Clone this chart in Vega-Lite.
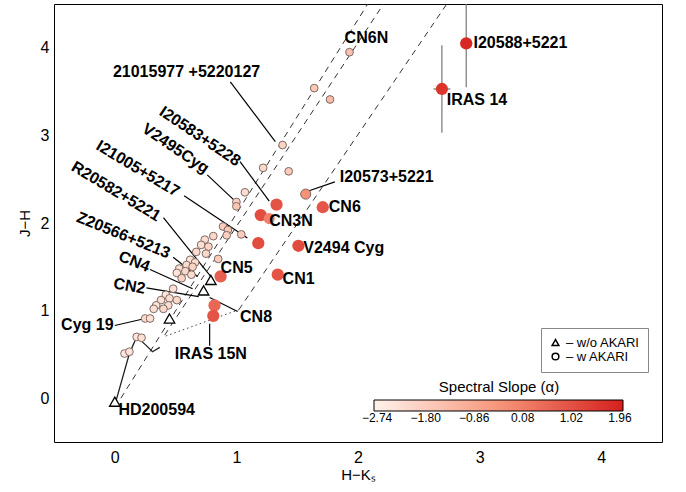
{
  "$schema": "https://vega.github.io/schema/vega-lite/v6.json",
  "width": 608,
  "height": 438,
  "autosize": {"type": "none"},
  "padding": {"left": 54, "top": 4, "right": 24, "bottom": 50},
  "background": "white",
  "config": {
    "view": {"stroke": "black", "strokeWidth": 1},
    "font": "Liberation Sans",
    "axis": {"domain": false, "ticks": false, "grid": false,
      "labelColor": "black", "titleColor": "black", "labelFont": "Liberation Sans", "titleFont": "Liberation Sans", "labelOverlap": false, "labelFlush": false, "labelBound": false}
  },
  "datasets": {
    "tk": [{"v": -0.4}, {"v": -0.3}, {"v": -0.2}, {"v": -0.1}, {"v": 0}, {"v": 0.1}, {"v": 0.2}, {"v": 0.3}, {"v": 0.4}, {"v": 0.5}, {"v": 0.6}, {"v": 0.7}, {"v": 0.8}, {"v": 0.9}, {"v": 1}, {"v": 1.1}, {"v": 1.2}, {"v": 1.3}, {"v": 1.4}, {"v": 1.5}, {"v": 1.6}, {"v": 1.7}, {"v": 1.8}, {"v": 1.9}, {"v": 2}, {"v": 2.1}, {"v": 2.2}, {"v": 2.3}, {"v": 2.4}, {"v": 2.5}, {"v": 2.6}, {"v": 2.7}, {"v": 2.8}, {"v": 2.9}, {"v": 3}, {"v": 3.1}, {"v": 3.2}, {"v": 3.3}, {"v": 3.4}, {"v": 3.5}, {"v": 3.6}, {"v": 3.7}, {"v": 3.8}, {"v": 3.9}, {"v": 4}, {"v": 4.1}, {"v": 4.2}, {"v": 4.3}, {"v": 4.4}],
    "pts": [
      {"hk": 2.89, "jh": 4.05, "alpha": 1.85, "akari": "w AKARI"},
      {"hk": 2.69, "jh": 3.53, "alpha": 1.6, "akari": "w AKARI"},
      {"hk": 1.71, "jh": 2.18, "alpha": 0.9, "akari": "w AKARI"},
      {"hk": 1.33, "jh": 2.21, "alpha": 0.95, "akari": "w AKARI"},
      {"hk": 1.20, "jh": 2.09, "alpha": 1.1, "akari": "w AKARI"},
      {"hk": 1.27, "jh": 2.05, "alpha": 0.05, "akari": "w AKARI"},
      {"hk": 1.18, "jh": 1.77, "alpha": 1.1, "akari": "w AKARI"},
      {"hk": 1.51, "jh": 1.74, "alpha": 1.15, "akari": "w AKARI"},
      {"hk": 1.34, "jh": 1.41, "alpha": 0.95, "akari": "w AKARI"},
      {"hk": 0.87, "jh": 1.39, "alpha": 0.75, "akari": "w AKARI"},
      {"hk": 0.82, "jh": 1.06, "alpha": 0.55, "akari": "w AKARI"},
      {"hk": 0.81, "jh": 0.94, "alpha": 0.95, "akari": "w AKARI"},
      {"hk": 1.57, "jh": 2.33, "alpha": -0.3, "akari": "w AKARI"},
      {"hk": 1.93, "jh": 3.95, "alpha": -1.5, "akari": "w AKARI"},
      {"hk": 1.64, "jh": 3.54, "alpha": -1.7, "akari": "w AKARI"},
      {"hk": 1.77, "jh": 3.41, "alpha": -1.4, "akari": "w AKARI"},
      {"hk": 1.38, "jh": 2.89, "alpha": -2.0, "akari": "w AKARI"},
      {"hk": 1.22, "jh": 2.63, "alpha": -2.1, "akari": "w AKARI"},
      {"hk": 1.43, "jh": 2.59, "alpha": -1.7, "akari": "w AKARI"},
      {"hk": 1.07, "jh": 2.35, "alpha": -2.2, "akari": "w AKARI"},
      {"hk": 1.00, "jh": 2.24, "alpha": -1.9, "akari": "w AKARI"},
      {"hk": 1.00, "jh": 2.19, "alpha": -1.6, "akari": "w AKARI"},
      {"hk": 0.89, "jh": 1.96, "alpha": -1.8, "akari": "w AKARI"},
      {"hk": 0.93, "jh": 1.92, "alpha": -1.7, "akari": "w AKARI"},
      {"hk": 0.81, "jh": 1.85, "alpha": -2.1, "akari": "w AKARI"},
      {"hk": 0.74, "jh": 1.81, "alpha": -2.2, "akari": "w AKARI"},
      {"hk": 0.92, "jh": 1.86, "alpha": -1.9, "akari": "w AKARI"},
      {"hk": 1.04, "jh": 1.87, "alpha": -1.8, "akari": "w AKARI"},
      {"hk": 0.71, "jh": 1.75, "alpha": -2.3, "akari": "w AKARI"},
      {"hk": 0.77, "jh": 1.73, "alpha": -2.0, "akari": "w AKARI"},
      {"hk": 0.67, "jh": 1.67, "alpha": -2.2, "akari": "w AKARI"},
      {"hk": 0.75, "jh": 1.65, "alpha": -2.1, "akari": "w AKARI"},
      {"hk": 0.85, "jh": 1.59, "alpha": -1.8, "akari": "w AKARI"},
      {"hk": 0.62, "jh": 1.58, "alpha": -2.4, "akari": "w AKARI"},
      {"hk": 0.66, "jh": 1.55, "alpha": -2.2, "akari": "w AKARI"},
      {"hk": 0.59, "jh": 1.52, "alpha": -2.2, "akari": "w AKARI"},
      {"hk": 0.64, "jh": 1.50, "alpha": -2.0, "akari": "w AKARI"},
      {"hk": 0.53, "jh": 1.48, "alpha": -2.3, "akari": "w AKARI"},
      {"hk": 0.58, "jh": 1.45, "alpha": -2.1, "akari": "w AKARI"},
      {"hk": 0.51, "jh": 1.43, "alpha": -2.4, "akari": "w AKARI"},
      {"hk": 0.63, "jh": 1.41, "alpha": -2.2, "akari": "w AKARI"},
      {"hk": 0.55, "jh": 1.37, "alpha": -2.0, "akari": "w AKARI"},
      {"hk": 0.48, "jh": 1.25, "alpha": -2.3, "akari": "w AKARI"},
      {"hk": 0.42, "jh": 1.18, "alpha": -2.4, "akari": "w AKARI"},
      {"hk": 0.45, "jh": 1.14, "alpha": -2.2, "akari": "w AKARI"},
      {"hk": 0.51, "jh": 1.12, "alpha": -2.1, "akari": "w AKARI"},
      {"hk": 0.38, "jh": 1.12, "alpha": -2.3, "akari": "w AKARI"},
      {"hk": 0.34, "jh": 1.06, "alpha": -2.4, "akari": "w AKARI"},
      {"hk": 0.44, "jh": 1.06, "alpha": -2.2, "akari": "w AKARI"},
      {"hk": 0.32, "jh": 1.02, "alpha": -2.3, "akari": "w AKARI"},
      {"hk": 0.40, "jh": 1.02, "alpha": -2.1, "akari": "w AKARI"},
      {"hk": 0.25, "jh": 0.91, "alpha": -2.2, "akari": "w AKARI"},
      {"hk": 0.29, "jh": 0.91, "alpha": -2.3, "akari": "w AKARI"},
      {"hk": 0.18, "jh": 0.70, "alpha": -2.4, "akari": "w AKARI"},
      {"hk": 0.22, "jh": 0.69, "alpha": -2.3, "akari": "w AKARI"},
      {"hk": 0.08, "jh": 0.51, "alpha": -2.5, "akari": "w AKARI"},
      {"hk": 0.12, "jh": 0.53, "alpha": -2.4, "akari": "w AKARI"}
    ],
    "tri": [
      {"hk": 0.0, "jh": -0.04, "akari": "w/o AKARI"},
      {"hk": 0.45, "jh": 0.91, "akari": "w/o AKARI"},
      {"hk": 0.73, "jh": 1.23, "akari": "w/o AKARI"},
      {"hk": 0.79, "jh": 1.35, "akari": "w/o AKARI"}
    ],
    "err": [
      {"hk": 2.89, "hklo": 2.84, "hkhi": 2.94, "jh": 4.05, "jhlo": 3.55, "jhhi": 4.55},
      {"hk": 2.69, "hklo": 2.62, "hkhi": 2.76, "jh": 3.53, "jhlo": 3.03, "jhhi": 4.03}
    ],
    "lines": [
      {"g": "A", "o": 1, "hk": 0.05, "jh": 0.0},
      {"g": "A", "o": 2, "hk": 2.08, "jh": 4.5},
      {"g": "B", "o": 1, "hk": 0.41, "jh": 0.72},
      {"g": "B", "o": 2, "hk": 2.21, "jh": 4.5},
      {"g": "C", "o": 1, "hk": 1.02, "jh": 1.01},
      {"g": "C", "o": 2, "hk": 2.73, "jh": 4.5},
      {"g": "D", "o": 1, "hk": 0.01, "jh": -0.03},
      {"g": "D", "o": 2, "hk": 0.12, "jh": 0.51},
      {"g": "D", "o": 3, "hk": 0.18, "jh": 0.70},
      {"g": "D", "o": 4, "hk": 0.26, "jh": 0.60},
      {"g": "D", "o": 5, "hk": 0.31, "jh": 0.53},
      {"g": "D", "o": 6, "hk": 0.37, "jh": 0.58},
      {"g": "T", "o": 1, "hk": 0.42, "jh": 0.71},
      {"g": "T", "o": 2, "hk": 1.02, "jh": 1.01}
    ],
    "leaders": [
      {"hk": 0.95, "jh": 3.61, "hk2": 1.32, "jh2": 2.93},
      {"hk": 1.03, "jh": 2.70, "hk2": 1.27, "jh2": 2.25},
      {"hk": 0.76, "jh": 2.55, "hk2": 1.02, "jh2": 2.21},
      {"hk": 0.57, "jh": 2.31, "hk2": 1.09, "jh2": 1.83},
      {"hk": 0.40, "jh": 2.06, "hk2": 0.80, "jh2": 1.37},
      {"hk": 0.48, "jh": 1.61, "hk2": 0.68, "jh2": 1.39},
      {"hk": 0.29, "jh": 1.47, "hk2": 0.64, "jh2": 1.25},
      {"hk": 0.26, "jh": 1.26, "hk2": 0.69, "jh2": 1.16},
      {"hk": 1.01, "jh": 0.99, "hk2": 0.78, "jh2": 1.15},
      {"hk": 0.78, "jh": 0.85, "hk2": 0.78, "jh2": 0.60},
      {"hk": 0.0, "jh": 0.83, "hk2": 0.25, "jh2": 0.91},
      {"hk": 1.81, "jh": 2.47, "hk2": 1.58, "jh2": 2.36}
    ],
    "labels": [
      {"name": "CN6N", "hk": 1.89, "jh": 4.11},
      {"name": "I20588+5221", "hk": 2.95, "jh": 4.05},
      {"name": "IRAS 14", "hk": 2.73, "jh": 3.40},
      {"name": "I20573+5221", "hk": 1.85, "jh": 2.52},
      {"name": "CN6", "hk": 1.76, "jh": 2.18},
      {"name": "CN3N", "hk": 1.27, "jh": 2.02},
      {"name": "V2494 Cyg", "hk": 1.55, "jh": 1.71},
      {"name": "CN1", "hk": 1.38, "jh": 1.36},
      {"name": "CN5", "hk": 0.87, "jh": 1.49},
      {"name": "CN8", "hk": 1.03, "jh": 0.93},
      {"name": "HD200594", "hk": 0.03, "jh": -0.14},
      {"name": "21015977 +5220127", "hk": 0.59, "jh": 3.72},
      {"name": "IRAS 15N", "hk": 0.79, "jh": 0.51},
      {"name": "Cyg 19", "hk": -0.01, "jh": 0.83},
      {"name": "I20583+5228", "hk": 0.70, "jh": 2.99},
      {"name": "V2495Cyg", "hk": 0.50, "jh": 2.85},
      {"name": "I21005+5217", "hk": 0.19, "jh": 2.62},
      {"name": "R20582+5221", "hk": 0.01, "jh": 2.36},
      {"name": "Z20566+5213", "hk": 0.07, "jh": 1.86},
      {"name": "CN4", "hk": 0.16, "jh": 1.56},
      {"name": "CN2", "hk": 0.12, "jh": 1.28}
    ]
  },
  "encoding": {
    "x": {"field": "hk", "type": "quantitative", "scale": {"domain": [-0.5, 4.5], "nice": false, "zero": false},
      "axis": {"orient": "bottom", "title": "H−Kₛ", "titleFontSize": 15, "titleFontWeight": "normal", "titlePadding": 2,
        "values": [0, 1, 2, 3, 4], "format": "d", "labelPadding": 7, "labelFontSize": 16}},
    "y": {"field": "jh", "type": "quantitative", "scale": {"domain": [-0.5, 4.5], "nice": false, "zero": false},
      "axis": {"orient": "left", "title": "J−H", "titleFontSize": 15, "titleFontWeight": "normal", "titlePadding": 8,
        "values": [0, 1, 2, 3, 4], "format": "d", "labelPadding": 5, "labelFontSize": 16}}
  },
  "layer": [
    {"data": {"name": "tk"}, "mark": {"type": "tick", "orient": "vertical", "color": "black", "opacity": 1, "size": 5, "thickness": 1, "yOffset": -2.5},
      "encoding": {"x": {"field": "v", "type": "quantitative"}, "y": {"datum": -0.5, "type": "quantitative"}}},
    {"data": {"name": "tk"}, "transform": [{"filter": {"field": "v", "oneOf": [0, 1, 2, 3, 4]}}], "mark": {"type": "tick", "orient": "vertical", "color": "black", "opacity": 1, "size": 9, "thickness": 1, "yOffset": -4.5},
      "encoding": {"x": {"field": "v", "type": "quantitative"}, "y": {"datum": -0.5, "type": "quantitative"}}},
    {"data": {"name": "tk"}, "mark": {"type": "tick", "orient": "vertical", "color": "black", "opacity": 1, "size": 5, "thickness": 1, "yOffset": 2.5},
      "encoding": {"x": {"field": "v", "type": "quantitative"}, "y": {"datum": 4.5, "type": "quantitative"}}},
    {"data": {"name": "tk"}, "transform": [{"filter": {"field": "v", "oneOf": [0, 1, 2, 3, 4]}}], "mark": {"type": "tick", "orient": "vertical", "color": "black", "opacity": 1, "size": 9, "thickness": 1, "yOffset": 4.5},
      "encoding": {"x": {"field": "v", "type": "quantitative"}, "y": {"datum": 4.5, "type": "quantitative"}}},
    {"data": {"name": "tk"}, "mark": {"type": "tick", "orient": "horizontal", "color": "black", "opacity": 1, "size": 5, "thickness": 1, "xOffset": 2.5},
      "encoding": {"y": {"field": "v", "type": "quantitative"}, "x": {"datum": -0.5, "type": "quantitative"}}},
    {"data": {"name": "tk"}, "transform": [{"filter": {"field": "v", "oneOf": [0, 1, 2, 3, 4]}}], "mark": {"type": "tick", "orient": "horizontal", "color": "black", "opacity": 1, "size": 9, "thickness": 1, "xOffset": 4.5},
      "encoding": {"y": {"field": "v", "type": "quantitative"}, "x": {"datum": -0.5, "type": "quantitative"}}},
    {"data": {"name": "tk"}, "mark": {"type": "tick", "orient": "horizontal", "color": "black", "opacity": 1, "size": 5, "thickness": 1, "xOffset": -2.5},
      "encoding": {"y": {"field": "v", "type": "quantitative"}, "x": {"datum": 4.5, "type": "quantitative"}}},
    {"data": {"name": "tk"}, "transform": [{"filter": {"field": "v", "oneOf": [0, 1, 2, 3, 4]}}], "mark": {"type": "tick", "orient": "horizontal", "color": "black", "opacity": 1, "size": 9, "thickness": 1, "xOffset": -4.5},
      "encoding": {"y": {"field": "v", "type": "quantitative"}, "x": {"datum": 4.5, "type": "quantitative"}}},
    {"data": {"name": "lines"}, "transform": [{"filter": {"field": "g", "oneOf": ["A", "B", "C"]}}],
      "mark": {"type": "line", "color": "#333333", "strokeWidth": 1, "strokeDash": [6, 5], "clip": true},
      "encoding": {"detail": {"field": "g"}, "order": {"field": "o", "type": "quantitative"}}},
    {"data": {"name": "lines"}, "transform": [{"filter": {"field": "g", "equal": "D"}}],
      "mark": {"type": "line", "color": "#222222", "strokeWidth": 1.3},
      "encoding": {"order": {"field": "o", "type": "quantitative"}}},
    {"data": {"name": "lines"}, "transform": [{"filter": {"field": "g", "equal": "T"}}],
      "mark": {"type": "line", "color": "#444444", "strokeWidth": 1, "strokeDash": [1.5, 3]},
      "encoding": {"order": {"field": "o", "type": "quantitative"}}},
    {"data": {"name": "err"}, "mark": {"type": "rule", "color": "#777777", "strokeWidth": 1.2, "clip": true},
      "encoding": {"y": {"field": "jhlo", "type": "quantitative"}, "y2": {"field": "jhhi"}}},
    {"data": {"name": "err"}, "mark": {"type": "rule", "color": "#777777", "strokeWidth": 1.2},
      "encoding": {"x": {"field": "hklo", "type": "quantitative"}, "x2": {"field": "hkhi"}}},
    {"data": {"name": "leaders"}, "mark": {"type": "rule", "color": "black", "strokeWidth": 1.2},
      "encoding": {"x2": {"field": "hk2"}, "y2": {"field": "jh2"}}},
    {"data": {"name": "tri"}, "mark": {"type": "point", "filled": false, "fill": "white", "stroke": "black", "strokeWidth": 1.3, "size": 110, "opacity": 1},
      "encoding": {"shape": {"field": "akari", "type": "nominal", "scale": {"domain": ["w/o AKARI", "w AKARI"], "range": ["triangle-up", "circle"]},
        "legend": {"orient": "none", "legendX": 487, "legendY": 324, "title": null, "strokeColor": "#888888", "padding": 8, "labelFontSize": 13, "symbolSize": 45, "labelExpr": "'– ' + datum.label", "rowPadding": 0, "labelFont": "Liberation Sans",
          "encode": {"symbols": {"update": {"fill": {"value": "white"}, "stroke": {"value": "black"}, "strokeWidth": {"value": 1}, "opacity": {"value": 1}}}}}}}},
    {"data": {"name": "pts"}, "mark": {"type": "point", "filled": true, "opacity": 1, "strokeWidth": 1},
      "encoding": {
        "shape": {"field": "akari", "type": "nominal"},
        "color": {"field": "alpha", "type": "quantitative",
          "scale": {"domain": [-2.8, 2.02], "range": ["#fff3ec", "#f6967a", "#d5201c"], "interpolate": "rgb"},
          "legend": {"orient": "none", "legendX": 320, "legendY": 376, "direction": "horizontal", "gradientLength": 249, "gradientThickness": 11,
            "title": "Spectral Slope (α)", "titleFontSize": 15, "titleFontWeight": "normal", "titleAnchor": "middle", "titleFont": "Liberation Sans",
            "values": [-2.74, -1.8, -0.86, 0.08, 1.02, 1.96], "format": ".2f", "labelFontSize": 12, "labelFont": "Liberation Sans",
            "gradientStrokeColor": "black", "gradientStrokeWidth": 1, "labelOverlap": false}},
        "size": {"field": "alpha", "type": "quantitative", "scale": {"domain": [-1.0, 0.5], "range": [60, 150], "clamp": true}, "legend": null},
        "stroke": {"condition": {"test": "datum.alpha < 0", "value": "#7d6a64"}, "value": "transparent"}
      }},
    {"data": {"name": "labels"}, "transform": [{"filter": {"field": "name", "oneOf": ["CN6N", "I20588+5221", "IRAS 14", "I20573+5221", "CN6", "CN3N", "V2494 Cyg", "CN1", "CN5", "CN8", "HD200594"]}}],
      "mark": {"type": "text", "align": "left", "baseline": "middle", "font": "Liberation Sans", "fontWeight": "bold", "fontSize": 16, "color": "black"},
      "encoding": {"text": {"field": "name"}}},
    {"data": {"name": "labels"}, "transform": [{"filter": {"field": "name", "oneOf": ["21015977 +5220127", "IRAS 15N"]}}],
      "mark": {"type": "text", "align": "center", "baseline": "middle", "font": "Liberation Sans", "fontWeight": "bold", "fontSize": 16, "color": "black"},
      "encoding": {"text": {"field": "name"}}},
    {"data": {"name": "labels"}, "transform": [{"filter": {"field": "name", "equal": "Cyg 19"}}],
      "mark": {"type": "text", "align": "right", "baseline": "middle", "font": "Liberation Sans", "fontWeight": "bold", "fontSize": 16, "color": "black"},
      "encoding": {"text": {"field": "name"}}},
    {"data": {"name": "labels"}, "transform": [{"filter": {"field": "name", "oneOf": ["I20583+5228", "V2495Cyg"]}}],
      "mark": {"type": "text", "align": "center", "baseline": "middle", "angle": 34, "font": "Liberation Sans", "fontWeight": "bold", "fontSize": 16, "color": "black"},
      "encoding": {"text": {"field": "name"}}},
    {"data": {"name": "labels"}, "transform": [{"filter": {"field": "name", "oneOf": ["I21005+5217", "R20582+5221"]}}],
      "mark": {"type": "text", "align": "center", "baseline": "middle", "angle": 31, "font": "Liberation Sans", "fontWeight": "bold", "fontSize": 16, "color": "black"},
      "encoding": {"text": {"field": "name"}}},
    {"data": {"name": "labels"}, "transform": [{"filter": {"field": "name", "oneOf": ["Z20566+5213", "CN4"]}}],
      "mark": {"type": "text", "align": "center", "baseline": "middle", "angle": 22, "font": "Liberation Sans", "fontWeight": "bold", "fontSize": 16, "color": "black"},
      "encoding": {"text": {"field": "name"}}},
    {"data": {"name": "labels"}, "transform": [{"filter": {"field": "name", "equal": "CN2"}}],
      "mark": {"type": "text", "align": "center", "baseline": "middle", "angle": 10, "font": "Liberation Sans", "fontWeight": "bold", "fontSize": 16, "color": "black"},
      "encoding": {"text": {"field": "name"}}}
  ]
}
